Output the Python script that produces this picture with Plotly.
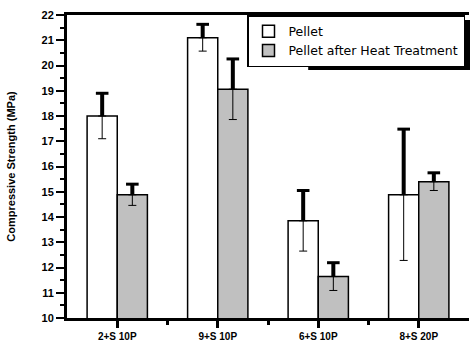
import plotly.graph_objects as go

categories = ["2+S 10P", "9+S 10P", "6+S 10P", "8+S 20P"]
pellet = [18.0, 21.1, 13.85, 14.88]
pellet_err = [0.9, 0.53, 1.2, 2.6]
heat = [14.88, 19.06, 11.64, 15.4]
heat_err = [0.42, 1.2, 0.55, 0.35]

xpos = list(range(len(categories)))
W = 0.3
zeros = [0] * len(categories)

fig = go.Figure()
fig.add_trace(go.Bar(
    x=xpos, y=pellet, width=W, offset=-W, name="Pellet",
    marker=dict(color="white", line=dict(color="black", width=1.5)),
    error_y=dict(type="data", symmetric=False, array=pellet_err, arrayminus=zeros,
                 thickness=4, width=0, color="black"),
))
fig.add_trace(go.Bar(
    x=xpos, y=heat, width=W, offset=0, name="Pellet after Heat Treatment",
    marker=dict(color="#c0c0c0", line=dict(color="black", width=1.5)),
    error_y=dict(type="data", symmetric=False, array=heat_err, arrayminus=zeros,
                 thickness=4, width=0, color="black"),
))
# thin lower halves of the error bars
for xs, ys, es in [([x - W / 2 for x in xpos], pellet, pellet_err),
                   ([x + W / 2 for x in xpos], heat, heat_err)]:
    fig.add_trace(go.Scatter(
        x=xs, y=ys, mode="markers",
        marker=dict(size=1, opacity=0), showlegend=False, hoverinfo="skip",
        error_y=dict(type="data", symmetric=False, array=zeros, arrayminus=es,
                     thickness=1, width=4, color="black"),
    ))
    # thick top caps
    fig.add_trace(go.Scatter(
        x=xs, y=[v + e for v, e in zip(ys, es)], mode="markers",
        marker=dict(symbol="line-ew", size=9, line=dict(width=3, color="black")),
        showlegend=False, hoverinfo="skip",
    ))

tickfont = dict(family="Liberation Sans", size=11, color="black", weight="bold")
xtickfont = dict(family="Liberation Sans", size=10, color="black", weight="bold")

# legend drop shadow (plot area is 402 x 303 px)
px_x = 1 / 402
px_y = 1 / 303
fig.add_shape(type="rect", xref="paper", yref="paper",
              x0=0.6, x1=1 + 1 * px_x, y0=1 - 55 * px_y, y1=1 - 5 * px_y,
              fillcolor="black", line=dict(width=0), layer="above")

fig.update_layout(
    width=473, height=342,
    margin=dict(l=67, r=4, t=15, b=24),
    paper_bgcolor="white", plot_bgcolor="white",
    barmode="overlay",
    showlegend=True,
    legend=dict(x=1 - 4 * px_x, y=1, xanchor="right", yanchor="top",
                bgcolor="white", bordercolor="black", borderwidth=1.5,
                font=dict(family="DejaVu Sans", size=12.5, color="black"),
                tracegroupgap=0),
    xaxis=dict(range=[-0.5, 3.5], tickvals=xpos, ticktext=categories,
               automargin=False,
               showgrid=False, zeroline=False, showline=True, linecolor="black",
               linewidth=3, mirror=True, ticks="outside", ticklen=7, tickwidth=3,
               tickcolor="black", tickfont=xtickfont,
               minor=dict(tickvals=[0.5, 1.5, 2.5], ticks="outside", ticklen=4,
                          tickwidth=3, tickcolor="black")),
    yaxis=dict(range=[10, 22], dtick=1, tick0=10, showgrid=False, zeroline=False,
               automargin=False,
               showline=True, linecolor="black", linewidth=3,
               ticks="outside", ticklen=8, tickwidth=2, tickcolor="black",
               tickfont=tickfont,
               minor=dict(dtick=0.5, ticks="outside", ticklen=4, tickwidth=2,
                          tickcolor="black"),
               title=dict(text="Compressive Strength (MPa)",
                          font=dict(family="Liberation Sans", size=11, color="black",
                                    weight="bold"),
                          standoff=24)),
)

fig.write_html("out.html", config={"displayModeBar": False},
               post_script="document.body.style.margin='0';document.body.style.padding='0';")
